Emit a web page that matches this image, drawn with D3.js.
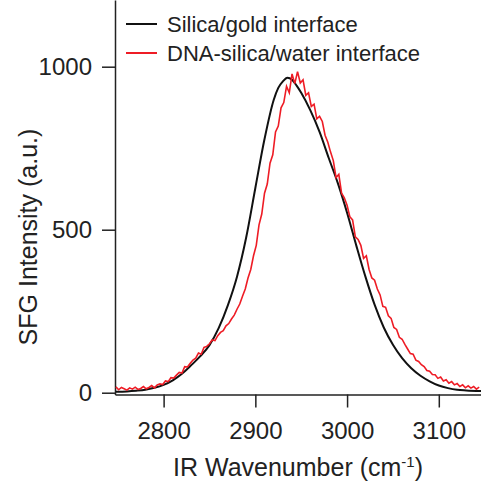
<!DOCTYPE html>
<html>
<head>
<meta charset="utf-8">
<script src="https://cdn.jsdelivr.net/npm/d3@7"></script>
<style>
  body { margin: 0; background: #fff; }
  text { font-family: "Liberation Sans", Arial, sans-serif; fill: #222; }
</style>
</head>
<body>
<div id="chart"></div>
<script>
//Series data (IR wavenumber in cm-1, SFG intensity in a.u.)
const goldWavenumber = [2748, 2760, 2770, 2780, 2790, 2800, 2810, 2820, 2830, 2840, 2850, 2860, 2870, 2880, 2890,
    2900, 2910, 2920, 2925, 2930, 2935, 2940, 2945, 2950, 2960, 2970, 2980, 2990, 3000, 3010, 3020, 3030,
    3040, 3050, 3060, 3070, 3080, 3090, 3100, 3110, 3120, 3130, 3146];
const goldIntensity = [3, 4, 6, 9, 15, 24, 38, 58, 84, 112, 146, 198, 268, 356, 476,
    628, 778, 898, 935, 955, 966, 960, 942, 920, 866, 800, 720, 642, 552, 452, 356, 270,
    200, 147, 106, 75, 52, 35, 22, 14, 9, 7, 5];

const dnaWavenumber = [2748, 2751, 2754, 2757, 2760, 2763, 2766, 2769, 2772, 2775, 2778, 2781, 2784, 2787, 2790,
    2793, 2796, 2799, 2802, 2805, 2808, 2811, 2814, 2817, 2820, 2823, 2826, 2829, 2832, 2835, 2838, 2841,
    2844, 2847, 2850, 2853, 2856, 2859, 2862, 2865, 2868, 2871, 2874, 2877, 2880, 2883, 2886, 2889, 2892,
    2895, 2898, 2901, 2904, 2907, 2910, 2913, 2916, 2919, 2922, 2925, 2928, 2931, 2934, 2937, 2940, 2943,
    2946, 2949, 2952, 2955, 2958, 2961, 2964, 2967, 2970, 2973, 2976, 2979, 2982, 2985, 2988, 2991, 2994,
    2997, 3000, 3003, 3006, 3009, 3012, 3015, 3018, 3021, 3024, 3027, 3030, 3033, 3036, 3039, 3042, 3045,
    3048, 3051, 3054, 3057, 3060, 3063, 3066, 3069, 3072, 3075, 3078, 3081, 3084, 3087, 3090, 3093, 3096,
    3099, 3102, 3105, 3108, 3111, 3114, 3117, 3120, 3123, 3126, 3129, 3132, 3135, 3138, 3141, 3144];
const dnaIntensity = [18, 9, 16, 12, 8, 15, 11, 17, 10, 13, 19, 12, 16, 22, 15,
    24, 27, 25, 36, 34, 46, 45, 54, 62, 60, 80, 79, 90, 100, 106, 122, 118,
    139, 142, 150, 162, 160, 175, 185, 190, 205, 212, 226, 238, 256, 272, 296, 318, 352,
    378, 420, 452, 515, 548, 612, 640, 704, 730, 800, 818, 874, 890, 940, 920, 978, 948,
    985, 950, 960, 912, 920, 878, 885, 840, 848, 832, 790, 768, 738, 712, 660, 670, 612,
    598, 575, 540, 530, 478, 470, 452, 412, 420, 378, 352, 345, 318, 300, 265, 262, 236,
    228, 200, 194, 170, 164, 148, 134, 120, 118, 100, 96, 86, 80, 68, 66, 56, 55,
    44, 48, 36, 40, 29, 34, 24, 28, 19, 24, 15, 21, 14, 19, 11, 17];

const xTicks = [2800, 2900, 3000, 3100];
const yTicks = [0, 500, 1000];
const seriesNames = ["Silica/gold interface", "DNA-silica/water interface"];
const seriesColors = ["#111111", "#ee1c25"];

const width = 481, height = 486;

const svg = d3.select("#chart")
    .append("svg")
    .attr("width", width)
    .attr("height", height);

//Scales
const x = d3.scaleLinear()
    .domain([2747, 3146])
    .range([115, 481]);
const y = d3.scaleLinear()
    .domain([-5.5, 1204.6])
    .range([394.5, 0]);

//X axis
const xAxis = svg.append("g")
    .attr("transform", `translate(0, ${y(-5.5)})`)
    .call(d3.axisBottom(x).tickValues(xTicks).tickFormat(d3.format("d"))
        .tickSize(13).tickSizeOuter(0).tickPadding(14));
xAxis.selectAll("text").style("font-size", "24px");

//Y axis
const yAxis = svg.append("g")
    .attr("transform", `translate(${x(2747)}, 0)`)
    .call(d3.axisLeft(y).tickValues(yTicks).tickFormat(d3.format("d"))
        .tickSize(13).tickSizeOuter(0).tickPadding(10));
yAxis.selectAll("text").style("font-size", "24px");

svg.selectAll(".domain, .tick line")
    .attr("stroke", "#222")
    .attr("stroke-width", 1.5);

//Lines
const line = d3.line()
    .x(d => x(d[0]))
    .y(d => y(d[1]));

svg.append("path")
    .datum(d3.zip(goldWavenumber, goldIntensity))
    .attr("fill", "none")
    .attr("stroke", seriesColors[0])
    .attr("stroke-width", 2)
    .attr("d", line.curve(d3.curveMonotoneX));

svg.append("path")
    .datum(d3.zip(dnaWavenumber, dnaIntensity))
    .attr("fill", "none")
    .attr("stroke", seriesColors[1])
    .attr("stroke-width", 1.6)
    .attr("d", line.curve(d3.curveLinear));

//Legend
const legend = svg.selectAll(".legend")
    .data(seriesNames)
    .join("g")
    .attr("class", "legend")
    .attr("transform", (d, i) => `translate(126, ${24 + i * 29})`);
legend.append("line")
    .attr("x1", 0).attr("x2", 31)
    .attr("stroke", (d, i) => seriesColors[i])
    .attr("stroke-width", 2);
legend.append("text")
    .attr("x", 41)
    .attr("y", 7.5)
    .style("font-size", "22px")
    .text(d => d);

//Axis titles
const xTitle = svg.append("text")
    .attr("x", 298)
    .attr("y", 476)
    .attr("text-anchor", "middle")
    .style("font-size", "25px");
xTitle.append("tspan").text("IR Wavenumber (cm");
xTitle.append("tspan").attr("dy", -9).style("font-size", "15px").text("-1");
xTitle.append("tspan").attr("dy", 9).text(")");

svg.append("text")
    .attr("transform", "translate(37, 237) rotate(-90)")
    .attr("text-anchor", "middle")
    .style("font-size", "25px")
    .text("SFG Intensity (a.u.)");
</script>
</body>
</html>
